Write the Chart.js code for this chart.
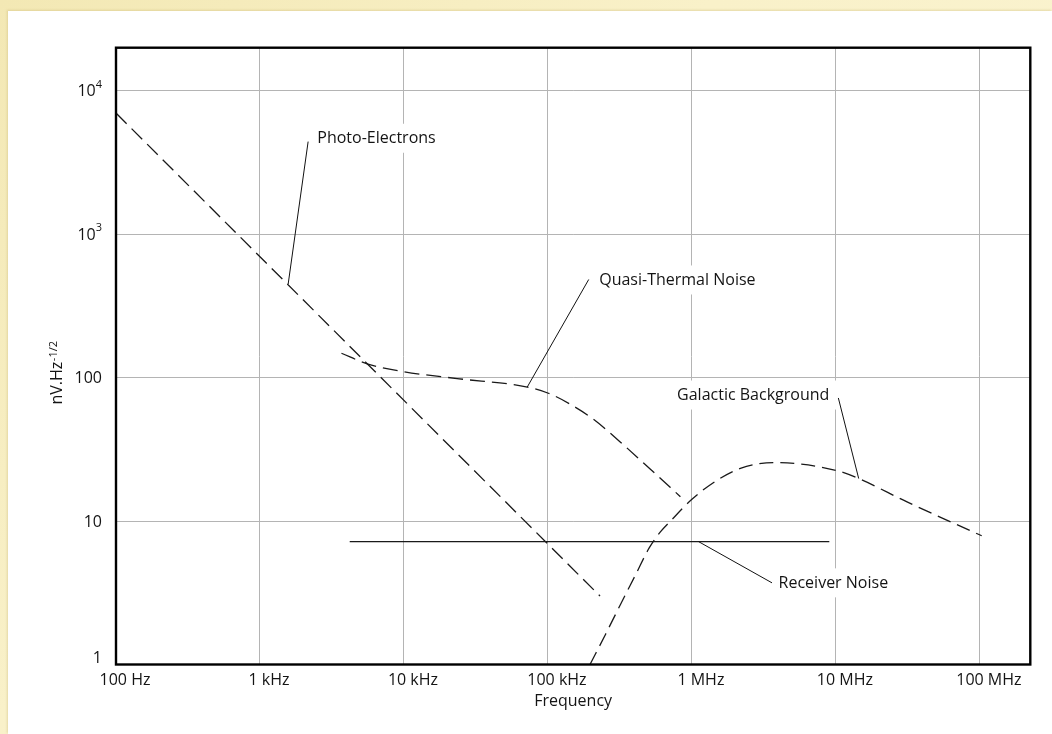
<!DOCTYPE html>
<html>
<head>
<meta charset="utf-8">
<title>Noise spectra</title>
<script src="https://cdn.jsdelivr.net/npm/chart.js@4.4.1/dist/chart.umd.min.js"></script>
<style>
  html, body { margin: 0; padding: 0; }
  body {
    width: 1052px; height: 734px; overflow: hidden; position: relative;
    background: linear-gradient(135deg, #f3e8b4 0%, #f9f1c9 40%, #fbf5d6 100%);
  }
  #panel {
    position: absolute; left: 8px; top: 11px; right: 0; bottom: 0;
    background: #ffffff;
    box-shadow: -1px -1px 2px rgba(190, 170, 100, 0.35);
  }
  #wrap { position: absolute; left: 0; top: 0; width: 1052px; height: 734px; }
</style>
</head>
<body>
<div id="panel"></div>
<div id="wrap"><canvas id="c" width="1052" height="734"></canvas></div>
<script>
// Axis ticks and labels
const xTicks = [1e2, 1e3, 1e4, 1e5, 1e6, 1e7, 1e8];
const xLabels = ['100 Hz', '1 kHz', '10 kHz', '100 kHz', '1 MHz', '10 MHz', '100 MHz'];
const yTicks = [1, 10, 100, 1000, 10000];
const yBase = ['1', '10', '100', '10', '10'];
const yExp = ['', '', '', '3', '4'];

// Photo-electron noise (Hz, nV/√Hz)
const photoFreq = [100, 230000];
const photoVal = [7000, 3.0];

// Quasi-thermal noise
const qtnFreq = [3680, 5550, 10000, 23400, 72000, 100700, 143000, 207000, 319000, 515000, 832000];
const qtnVal = [148, 125, 110, 98.6, 86, 77.9, 65.3, 51.3, 35.5, 23.0, 14.8];

// Galactic background
const galFreq = [196000, 251000, 319000, 405000, 505000, 604000, 710000, 1000000, 1500000, 2170000, 3700000, 10000000, 14400000, 31200000, 103000000];
const galVal = [1.0, 1.62, 2.62, 4.2, 6.5, 8.4, 10, 14.2, 19.3, 23.3, 25.6, 22.6, 19.8, 13.6, 7.9];

// Receiver noise floor
const rxFreq = [4200, 9000000];
const rxVal = [7.2, 7.2];

// Callouts: point on the curve, end of the leader, left/middle of the text
const callouts = [
  { text: 'Photo-Electrons',     at: [1570, 450],      elbow: [2160, 4430],     label: [2500, 4710] },
  { text: 'Quasi-Thermal Noise', at: [71800, 86],      elbow: [192000, 484],    label: [227000, 484] },
  { text: 'Galactic Background', at: [14400000, 19.8], elbow: [10400000, 72.2], label: [789000, 76.3] },
  { text: 'Receiver Noise',      at: [1110000, 7.2],   elbow: [3600000, 3.71],  label: [4000000, 3.74] }
];

const FAMILY = '"Open Sans", "Noto Sans", sans-serif';
const TEXT_COLOR = '#141414';
const LABEL_FONT = '16px ' + FAMILY;

const pts = (xs, ys) => xs.map((v, i) => ({ x: v, y: ys[i] }));

const overlay = {
  id: 'overlay',
  beforeDatasetsDraw(chart) {
    const { ctx, scales: { x, y } } = chart;
    ctx.save();
    ctx.font = LABEL_FONT;
    ctx.fillStyle = '#ffffff';
    callouts.forEach(c => {
      const px = x.getPixelForValue(c.label[0]);
      const py = y.getPixelForValue(c.label[1]);
      const w = ctx.measureText(c.text).width;
      ctx.fillRect(px - 8, py - 14, w + 16, 29);
    });
    ctx.restore();
  },
  afterDatasetsDraw(chart) {
    const { ctx, chartArea: a, scales: { x, y } } = chart;
    ctx.save();

    // leaders and callout text
    ctx.strokeStyle = '#111';
    ctx.lineWidth = 1;
    ctx.font = LABEL_FONT;
    ctx.fillStyle = TEXT_COLOR;
    ctx.textBaseline = 'middle';
    ctx.textAlign = 'left';
    callouts.forEach(c => {
      ctx.beginPath();
      ctx.moveTo(x.getPixelForValue(c.at[0]), y.getPixelForValue(c.at[1]));
      ctx.lineTo(x.getPixelForValue(c.elbow[0]), y.getPixelForValue(c.elbow[1]));
      ctx.stroke();
      ctx.fillText(c.text, x.getPixelForValue(c.label[0]), y.getPixelForValue(c.label[1]) + 1);
    });

    // plot frame
    ctx.strokeStyle = '#000';
    ctx.lineWidth = 2.4;
    ctx.strokeRect(a.left, a.top, a.right - a.left, a.bottom - a.top);

    // y tick labels with powers of ten
    const supFont = '11px ' + FAMILY;
    ctx.textBaseline = 'middle';
    yTicks.forEach((v, i) => {
      let py = y.getPixelForValue(v) + 1;
      if (i === 0) py -= 7.5; // lift the lowest label clear of the x labels
      const right = a.left - 14;
      ctx.font = supFont;
      const we = yExp[i] ? ctx.measureText(yExp[i]).width : 0;
      ctx.font = LABEL_FONT;
      const wb = ctx.measureText(yBase[i]).width;
      ctx.textAlign = 'left';
      ctx.fillText(yBase[i], right - we - wb, py);
      if (yExp[i]) {
        ctx.font = supFont;
        ctx.fillText(yExp[i], right - we, py - 7);
      }
    });

    // y axis title: nV.Hz^-1/2
    const base = 'nV.Hz', sup = '-1/2';
    ctx.font = LABEL_FONT;
    const wBase = ctx.measureText(base).width;
    ctx.font = supFont;
    const wSup = ctx.measureText(sup).width;
    const total = wBase + wSup;
    ctx.translate(61.5, 373 + total / 2);
    ctx.rotate(-Math.PI / 2);
    ctx.textBaseline = 'alphabetic';
    ctx.textAlign = 'left';
    ctx.font = LABEL_FONT;
    ctx.fillText(base, 0, 0);
    ctx.font = supFont;
    ctx.fillText(sup, wBase + 0.5, -5);

    ctx.restore();
  }
};

const lineStyle = {
  borderColor: '#1a1a1a',
  borderWidth: 1.3,
  pointRadius: 0,
  fill: false
};

new Chart(document.getElementById('c'), {
  type: 'line',
  data: {
    datasets: [
      { ...lineStyle, label: 'Photo-Electrons', data: pts(photoFreq, photoVal), borderDash: [15, 7], tension: 0 },
      { ...lineStyle, label: 'Quasi-Thermal Noise', data: pts(qtnFreq, qtnVal), borderDash: [15, 7], cubicInterpolationMode: 'monotone' },
      { ...lineStyle, label: 'Galactic Background', data: pts(galFreq, galVal), borderDash: [14, 7], cubicInterpolationMode: 'monotone' },
      { ...lineStyle, label: 'Receiver Noise', data: pts(rxFreq, rxVal), borderWidth: 1.2, tension: 0 }
    ]
  },
  options: {
    responsive: false,
    animation: false,
    devicePixelRatio: 1,
    layout: { padding: { top: 47.7, right: 21.7, bottom: 0, left: 0 } },
    plugins: { legend: { display: false }, tooltip: { enabled: false } },
    events: [],
    scales: {
      x: {
        type: 'logarithmic',
        min: 100,
        max: 2.24e8,
        afterFit: s => { s.height = 69.5; },
        afterBuildTicks: s => { s.ticks = xTicks.map(v => ({ value: v })); },
        grid: { color: '#b4b4b4', lineWidth: 1, drawTicks: false },
        border: { display: false },
        ticks: {
          autoSkip: false,
          maxRotation: 0,
          minRotation: 0,
          padding: 6,
          labelOffset: 9,
          color: TEXT_COLOR,
          font: { family: FAMILY, size: 16 },
          callback: (v, i) => xLabels[i]
        },
        title: {
          display: true,
          text: 'Frequency',
          color: TEXT_COLOR,
          font: { family: FAMILY, size: 16 },
          padding: { top: 0, bottom: 23 }
        }
      },
      y: {
        type: 'logarithmic',
        min: 1,
        max: 20000,
        afterFit: s => { s.width = 116; },
        afterBuildTicks: s => { s.ticks = yTicks.map(v => ({ value: v })); },
        grid: { color: '#b4b4b4', lineWidth: 1, drawTicks: false },
        border: { display: false },
        ticks: { display: false }
      }
    }
  },
  plugins: [overlay]
});
</script>
</body>
</html>
